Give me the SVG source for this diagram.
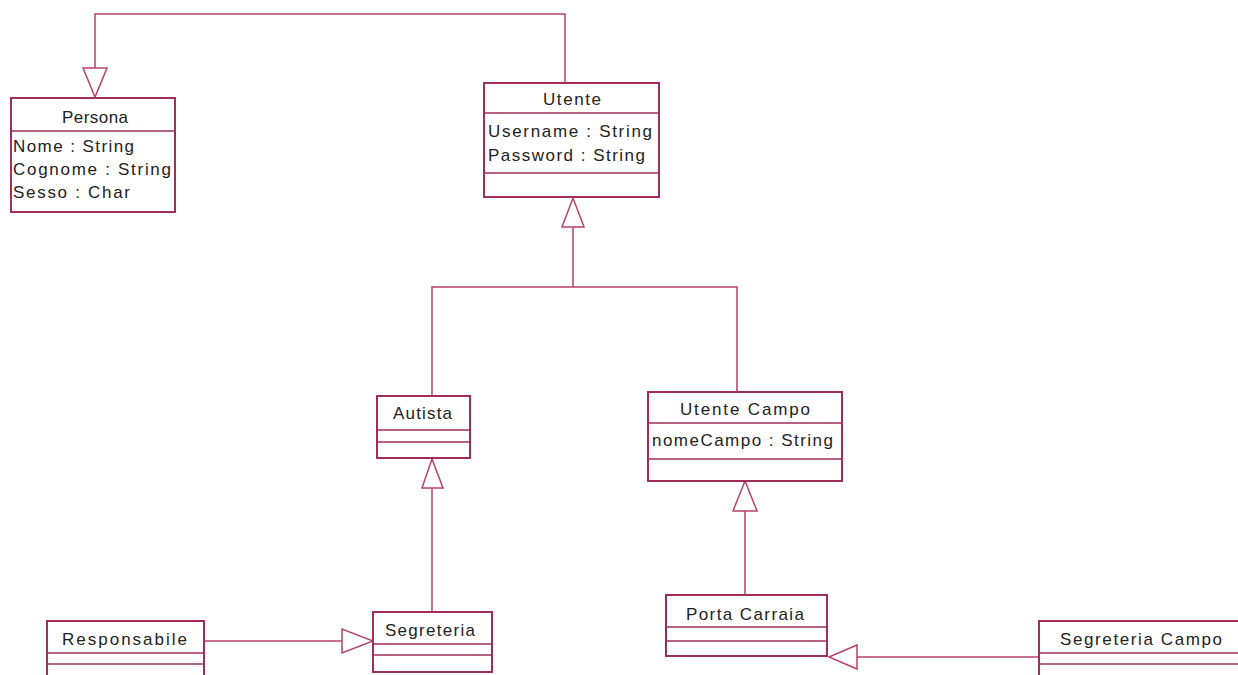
<svg xmlns="http://www.w3.org/2000/svg" width="1238" height="675" viewBox="0 0 1238 675">
<style>
.box{fill:#ffffff;stroke:#a02d5a;stroke-width:2}
.div{stroke:#a02d5a;stroke-width:1.5;fill:none}
.ln{stroke:#b8426e;stroke-width:1.5;fill:none}
.tri{stroke:#b8426e;stroke-width:1.5;fill:#ffffff}
.t{font-family:"Liberation Sans",Arial,sans-serif;font-size:17px;fill:#222222}
</style>
<rect width="1238" height="675" fill="#ffffff"/>
<g id="connectors">
<path class="ln" d="M565,83 V14 H95 V68"/>
<polygon class="tri" points="83,68 107,68 95,97"/>
<path class="ln" d="M432,396 V287 H737 V392 M573,287 V227"/>
<polygon class="tri" points="562,227 584,227 573,198"/>
<path class="ln" d="M432,612 V488"/>
<polygon class="tri" points="422,488 443,488 432,459"/>
<path class="ln" d="M745,595 V511"/>
<polygon class="tri" points="733,511 757,511 745,481"/>
<path class="ln" d="M204,641 H342"/>
<polygon class="tri" points="342,629 342,653 373,641"/>
<path class="ln" d="M1039,657 H857"/>
<polygon class="tri" points="857,645 857,669 829,657"/>
</g>
<g id="persona">
<rect class="box" x="11" y="98" width="164" height="114"/>
<line class="div" x1="11" y1="131" x2="175" y2="131"/>
<text class="t" x="62" y="123" textLength="66" lengthAdjust="spacing">Persona</text>
<text class="t" x="13" y="152" textLength="121" lengthAdjust="spacing">Nome : String</text>
<text class="t" x="13" y="175" textLength="158" lengthAdjust="spacing">Cognome : String</text>
<text class="t" x="13" y="198" textLength="117" lengthAdjust="spacing">Sesso : Char</text>
</g>
<g id="utente">
<rect class="box" x="484" y="83" width="175" height="114"/>
<line class="div" x1="484" y1="113" x2="659" y2="113"/>
<line class="div" x1="484" y1="173" x2="659" y2="173"/>
<text class="t" x="543" y="105" textLength="58" lengthAdjust="spacing">Utente</text>
<text class="t" x="488" y="137" textLength="164" lengthAdjust="spacing">Username : String</text>
<text class="t" x="488" y="161" textLength="157" lengthAdjust="spacing">Password : String</text>
</g>
<g id="autista">
<rect class="box" x="377" y="396" width="93" height="62"/>
<line class="div" x1="377" y1="430" x2="470" y2="430"/>
<line class="div" x1="377" y1="442" x2="470" y2="442"/>
<text class="t" x="393" y="419" textLength="59" lengthAdjust="spacing">Autista</text>
</g>
<g id="utente-campo">
<rect class="box" x="648" y="392" width="194" height="89"/>
<line class="div" x1="648" y1="423" x2="842" y2="423"/>
<line class="div" x1="648" y1="459" x2="842" y2="459"/>
<text class="t" x="680" y="415" textLength="130" lengthAdjust="spacing">Utente Campo</text>
<text class="t" x="652" y="446" textLength="181" lengthAdjust="spacing">nomeCampo : String</text>
</g>
<g id="responsabile">
<rect class="box" x="47" y="621" width="157" height="70"/>
<line class="div" x1="47" y1="653" x2="204" y2="653"/>
<line class="div" x1="47" y1="664" x2="204" y2="664"/>
<text class="t" x="62" y="645" textLength="125" lengthAdjust="spacing">Responsabile</text>
</g>
<g id="segreteria">
<rect class="box" x="373" y="612" width="119" height="60"/>
<line class="div" x1="373" y1="644" x2="492" y2="644"/>
<line class="div" x1="373" y1="655" x2="492" y2="655"/>
<text class="t" x="385" y="636" textLength="90" lengthAdjust="spacing">Segreteria</text>
</g>
<g id="porta-carraia">
<rect class="box" x="666" y="595" width="161" height="61"/>
<line class="div" x1="666" y1="627" x2="827" y2="627"/>
<line class="div" x1="666" y1="641" x2="827" y2="641"/>
<text class="t" x="686" y="620" textLength="118" lengthAdjust="spacing">Porta Carraia</text>
</g>
<g id="segreteria-campo">
<rect class="box" x="1039" y="621" width="250" height="70"/>
<line class="div" x1="1039" y1="653" x2="1289" y2="653"/>
<line class="div" x1="1039" y1="664" x2="1289" y2="664"/>
<text class="t" x="1060" y="645" textLength="162" lengthAdjust="spacing">Segreteria Campo</text>
</g>
</svg>
